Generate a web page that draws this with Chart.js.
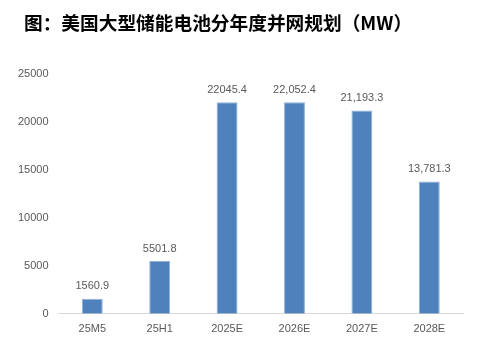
<!DOCTYPE html>
<html>
<head>
<meta charset="utf-8">
<script src="https://cdn.jsdelivr.net/npm/chart.js@4"></script>
<style>
  html, body { margin: 0; padding: 0; background: #fff; }
  #wrap { width: 485px; height: 346px; position: relative; }
  #title {
    position: absolute; left: 24px; top: 9px; margin: 0;
    font-family: 'Noto Sans CJK SC', sans-serif; font-weight: bold;
    font-size: 18.7px; line-height: 26px; color: #000; white-space: nowrap;
  }
</style>
</head>
<body>
<div id="wrap">
  <h1 id="title">图：美国大型储能电池分年度并网规划（MW）</h1>
  <canvas id="gridChart"></canvas>
</div>
<script>
// annual grid-connection plan, MW
const categories = ['25M5', '25H1', '2025E', '2026E', '2027E', '2028E'];
const capacity = [1560.9, 5501.8, 22045.4, 22052.4, 21193.3, 13781.3];
const capacityText = ['1560.9', '5501.8', '22045.4', '22,052.4', '21,193.3', '13,781.3'];
const yTicks = [0, 5000, 10000, 15000, 20000, 25000];

const tickFont = { family: "'Liberation Sans', 'Open Sans', sans-serif", size: 11 };

// value labels above each bar
const barLabels = {
    id: 'barLabels',
    afterDatasetsDraw(chart) {
        const ctx = chart.ctx;
        const meta = chart.getDatasetMeta(0);
        ctx.save();
        ctx.fillStyle = '#595959';
        ctx.font = "11px 'Liberation Sans', 'Open Sans', sans-serif";
        ctx.textAlign = 'center';
        ctx.textBaseline = 'bottom';
        meta.data.forEach((bar, i) => {
            ctx.fillText(capacityText[i], bar.x, bar.y - 7);
        });
        ctx.restore();
    }
};

new Chart(document.getElementById('gridChart').getContext('2d'), {
    type: 'bar',
    data: {
        labels: categories,
        datasets: [{
            data: capacity,
            backgroundColor: '#4F81BD',
            borderColor: '#8db0dc',
            borderWidth: 1,
            barPercentage: 0.62,
            categoryPercentage: 0.5
        }]
    },
    options: {
        responsive: true,
        maintainAspectRatio: false,
        animation: false,
        layout: { padding: { left: 8, right: 22, top: 74, bottom: 1 } },
        plugins: {
            legend: { display: false },
            tooltip: { enabled: false }
        },
        scales: {
            y: {
                min: 0,
                max: 25000,
                afterBuildTicks(axis) {
                    axis.ticks = yTicks.map(v => ({ value: v }));
                },
                grid: { display: false, drawTicks: false },
                border: { display: false },
                ticks: {
                    color: '#595959', font: tickFont, padding: 10,
                    callback: v => String(v)
                }
            },
            x: {
                grid: { display: false, drawTicks: false },
                border: { display: true, color: '#d9d9d9', width: 1 },
                ticks: { color: '#595959', font: tickFont, padding: 9 }
            }
        }
    },
    plugins: [barLabels]
});
</script>
</body>
</html>
